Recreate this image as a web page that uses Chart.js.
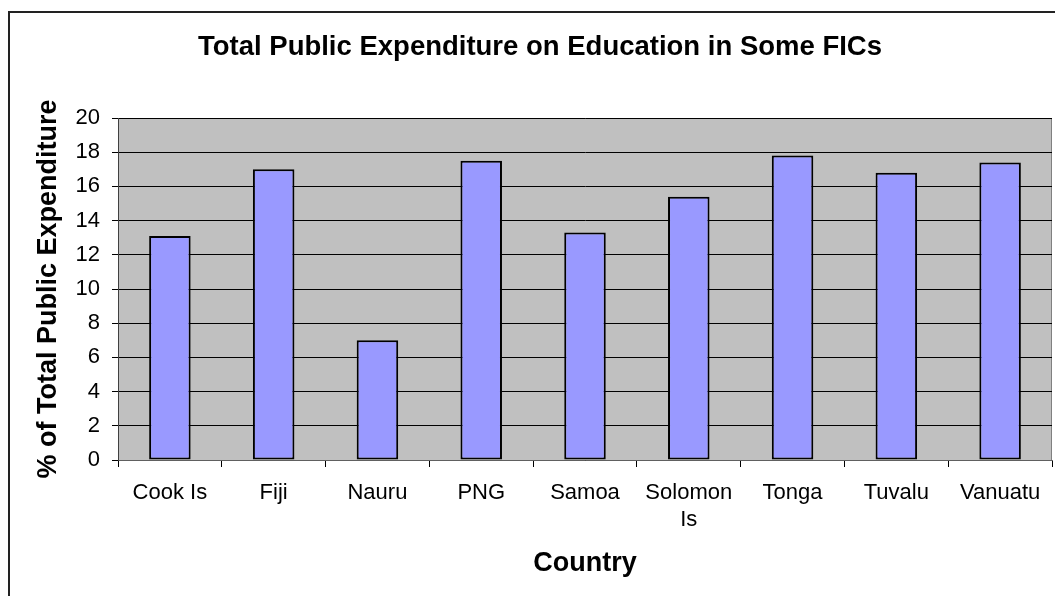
<!DOCTYPE html>
<html>
<head>
<meta charset="utf-8">
<script src="https://cdn.jsdelivr.net/npm/chart.js@4/dist/chart.umd.min.js"></script>
<style>
  html, body { margin: 0; padding: 0; background: #fff; overflow: hidden; }
  #wrap { width: 1055px; height: 596px; overflow: hidden; }
</style>
</head>
<body>
<div id="wrap"><canvas id="canvas" width="1080" height="596"></canvas></div>
<script>
const countries = ["Cook Is", "Fiji", "Nauru", "PNG", "Samoa", ["Solomon", "Is"], "Tonga", "Tuvalu", "Vanuatu"];
const spending = [13.1, 17.0, 7.0, 17.5, 13.3, 15.4, 17.8, 16.8, 17.4];

const FONT = "'Liberation Sans', Arial, sans-serif";

// серый фон области построения + рамка всей диаграммы
const plotBackground = {
    id: "plotBackground",
    beforeDraw(chart) {
        const {ctx, chartArea: a} = chart;
        ctx.save();
        ctx.strokeStyle = "#222";
        ctx.lineWidth = 2;
        ctx.strokeRect(9, 12, chart.width + 20, chart.height + 20);
        ctx.fillStyle = "#c0c0c0";
        ctx.fillRect(a.left, a.top, a.right - a.left, a.bottom - a.top);
        ctx.strokeStyle = "#808080";
        ctx.lineWidth = 1;
        ctx.strokeRect(a.left + 0.5, a.top + 0.5, a.right - a.left - 1, a.bottom - a.top);
        ctx.restore();
    },
};

new Chart(document.getElementById("canvas"), {
    type: "bar",
    data: {
        labels: countries,
        datasets: [{
            label: "% of Total Public Expenditure",
            data: spending,
            backgroundColor: "#9999ff",
            borderColor: "#000",
            borderWidth: 2,
            borderSkipped: false,
            barPercentage: 0.4,
            categoryPercentage: 1.0,
        }],
    },
    options: {
        responsive: false,
        animation: false,
        layout: {
            padding: {left: 28, right: 28, top: 0, bottom: 0},
        },
        plugins: {
            legend: {display: false},
            tooltip: {enabled: false},
            title: {
                display: true,
                text: "Total Public Expenditure on Education in Some FICs",
                color: "#000",
                font: {family: FONT, size: 27.5, weight: "bold"},
                padding: {top: 31, bottom: 54},
            },
        },
        scales: {
            x: {
                afterFit(scale) { scale.height = 136; },
                grid: {
                    display: true,
                    drawOnChartArea: false,
                    color: "#000",
                    tickLength: 7,
                },
                border: {display: true, color: "#606060"},
                ticks: {
                    color: "#000",
                    font: {family: FONT, size: 22},
                    padding: 13,
                    maxRotation: 0,
                    autoSkip: false,
                },
                title: {
                    display: true,
                    text: "Country",
                    color: "#000",
                    font: {family: FONT, size: 27, weight: "bold"},
                    padding: {top: 0, bottom: 16},
                },
            },
            y: {
                min: 0,
                max: 20,
                afterFit(scale) { scale.width = 90; },
                grid: {
                    color: "#000",
                    lineWidth: 1,
                    tickLength: 6,
                },
                border: {display: true, color: "#404040"},
                ticks: {
                    stepSize: 2,
                    color: "#000",
                    font: {family: FONT, size: 22},
                    padding: 12,
                },
                title: {
                    display: true,
                    text: "% of Total Public Expenditure",
                    color: "#000",
                    font: {family: FONT, size: 27, weight: "bold"},
                    padding: {top: 4, bottom: 0},
                },
            },
        },
    },
    plugins: [plotBackground],
});
</script>
</body>
</html>
